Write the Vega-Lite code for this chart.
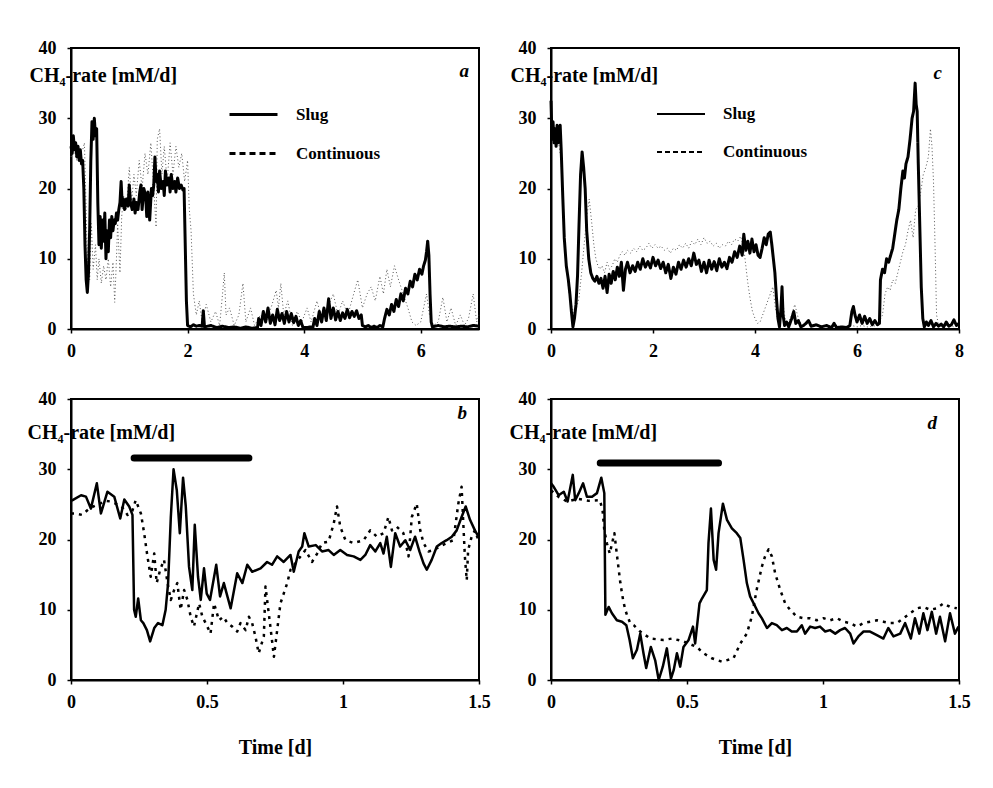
{
  "$schema": "https://vega.github.io/schema/vega-lite/v6.json",
  "background": "white",
  "padding": {"left": 26, "top": 38, "right": 20, "bottom": 20},
  "columns": 2,
  "spacing": {"row": 70, "column": 72},
  "bounds": "flush",
  "resolve": {"scale": {"strokeDash": "independent"}, "legend": {"strokeDash": "independent"}},
  "datasets": {
    "a": [
      {"t":0.00,"v":26,"s":"Slug"},{"t":0.02,"v":25,"s":"Slug"},{"t":0.04,"v":27.5,"s":"Slug"},{"t":0.06,"v":25.5,"s":"Slug"},{"t":0.08,"v":26.5,"s":"Slug"},{"t":0.10,"v":24.5,"s":"Slug"},{"t":0.12,"v":26,"s":"Slug"},{"t":0.14,"v":24,"s":"Slug"},{"t":0.16,"v":25.5,"s":"Slug"},{"t":0.18,"v":23.5,"s":"Slug"},{"t":0.20,"v":24,"s":"Slug"},{"t":0.22,"v":20,"s":"Slug"},{"t":0.24,"v":12,"s":"Slug"},{"t":0.26,"v":7,"s":"Slug"},{"t":0.28,"v":5.2,"s":"Slug"},{"t":0.30,"v":8,"s":"Slug"},{"t":0.32,"v":14,"s":"Slug"},{"t":0.34,"v":24,"s":"Slug"},{"t":0.36,"v":29.5,"s":"Slug"},{"t":0.38,"v":27,"s":"Slug"},{"t":0.40,"v":30,"s":"Slug"},{"t":0.42,"v":27.5,"s":"Slug"},{"t":0.44,"v":28.5,"s":"Slug"},{"t":0.46,"v":18,"s":"Slug"},{"t":0.48,"v":12,"s":"Slug"},{"t":0.50,"v":16,"s":"Slug"},{"t":0.52,"v":11.5,"s":"Slug"},{"t":0.54,"v":15.5,"s":"Slug"},{"t":0.56,"v":12.5,"s":"Slug"},{"t":0.58,"v":16.5,"s":"Slug"},{"t":0.60,"v":10,"s":"Slug"},{"t":0.62,"v":14,"s":"Slug"},{"t":0.64,"v":11,"s":"Slug"},{"t":0.66,"v":15.5,"s":"Slug"},{"t":0.68,"v":13,"s":"Slug"},{"t":0.70,"v":16,"s":"Slug"},{"t":0.72,"v":14,"s":"Slug"},{"t":0.74,"v":15.5,"s":"Slug"},{"t":0.76,"v":15,"s":"Slug"},{"t":0.78,"v":16.5,"s":"Slug"},{"t":0.80,"v":15.5,"s":"Slug"},{"t":0.82,"v":17,"s":"Slug"},{"t":0.84,"v":18,"s":"Slug"},{"t":0.86,"v":21,"s":"Slug"},{"t":0.88,"v":17.5,"s":"Slug"},{"t":0.90,"v":18.5,"s":"Slug"},{"t":0.92,"v":17,"s":"Slug"},{"t":0.95,"v":18.5,"s":"Slug"},{"t":0.98,"v":17.5,"s":"Slug"},{"t":1.00,"v":20.5,"s":"Slug"},{"t":1.02,"v":18,"s":"Slug"},{"t":1.05,"v":17,"s":"Slug"},{"t":1.08,"v":18.5,"s":"Slug"},{"t":1.10,"v":16.5,"s":"Slug"},{"t":1.12,"v":18,"s":"Slug"},{"t":1.15,"v":17,"s":"Slug"},{"t":1.18,"v":19.5,"s":"Slug"},{"t":1.20,"v":20.5,"s":"Slug"},{"t":1.22,"v":17,"s":"Slug"},{"t":1.25,"v":20,"s":"Slug"},{"t":1.28,"v":19,"s":"Slug"},{"t":1.30,"v":16,"s":"Slug"},{"t":1.32,"v":19.5,"s":"Slug"},{"t":1.35,"v":15.5,"s":"Slug"},{"t":1.38,"v":20,"s":"Slug"},{"t":1.40,"v":19,"s":"Slug"},{"t":1.42,"v":20.5,"s":"Slug"},{"t":1.44,"v":24.5,"s":"Slug"},{"t":1.46,"v":21,"s":"Slug"},{"t":1.48,"v":22,"s":"Slug"},{"t":1.50,"v":19.5,"s":"Slug"},{"t":1.52,"v":22.5,"s":"Slug"},{"t":1.55,"v":20,"s":"Slug"},{"t":1.58,"v":21,"s":"Slug"},{"t":1.60,"v":19,"s":"Slug"},{"t":1.62,"v":22.5,"s":"Slug"},{"t":1.65,"v":20.5,"s":"Slug"},{"t":1.68,"v":21.5,"s":"Slug"},{"t":1.70,"v":19.5,"s":"Slug"},{"t":1.72,"v":22,"s":"Slug"},{"t":1.75,"v":20,"s":"Slug"},{"t":1.78,"v":21,"s":"Slug"},{"t":1.80,"v":19.5,"s":"Slug"},{"t":1.83,"v":21.5,"s":"Slug"},{"t":1.86,"v":20,"s":"Slug"},{"t":1.89,"v":20.5,"s":"Slug"},{"t":1.92,"v":19.8,"s":"Slug"},{"t":1.94,"v":20,"s":"Slug"},{"t":1.96,"v":12,"s":"Slug"},{"t":1.98,"v":4,"s":"Slug"},{"t":2.00,"v":0.5,"s":"Slug"},{"t":2.05,"v":0.3,"s":"Slug"},{"t":2.10,"v":0.6,"s":"Slug"},{"t":2.15,"v":0.4,"s":"Slug"},{"t":2.20,"v":0.5,"s":"Slug"},{"t":2.25,"v":0.4,"s":"Slug"},{"t":2.27,"v":2.6,"s":"Slug"},{"t":2.29,"v":0.3,"s":"Slug"},{"t":2.4,"v":0.5,"s":"Slug"},{"t":2.5,"v":0.2,"s":"Slug"},{"t":2.6,"v":0.4,"s":"Slug"},{"t":2.7,"v":0.2,"s":"Slug"},{"t":2.8,"v":0.3,"s":"Slug"},{"t":2.9,"v":0.1,"s":"Slug"},{"t":3.0,"v":0.3,"s":"Slug"},{"t":3.1,"v":0.1,"s":"Slug"},{"t":3.2,"v":0.2,"s":"Slug"},{"t":3.22,"v":1.5,"s":"Slug"},{"t":3.26,"v":0.5,"s":"Slug"},{"t":3.30,"v":2.5,"s":"Slug"},{"t":3.34,"v":1,"s":"Slug"},{"t":3.38,"v":3,"s":"Slug"},{"t":3.42,"v":0.8,"s":"Slug"},{"t":3.46,"v":2,"s":"Slug"},{"t":3.50,"v":0.6,"s":"Slug"},{"t":3.54,"v":2.8,"s":"Slug"},{"t":3.58,"v":1.2,"s":"Slug"},{"t":3.62,"v":2.2,"s":"Slug"},{"t":3.66,"v":0.8,"s":"Slug"},{"t":3.70,"v":2.5,"s":"Slug"},{"t":3.74,"v":1,"s":"Slug"},{"t":3.78,"v":2.2,"s":"Slug"},{"t":3.82,"v":0.9,"s":"Slug"},{"t":3.86,"v":1.8,"s":"Slug"},{"t":3.90,"v":0.5,"s":"Slug"},{"t":3.94,"v":1.2,"s":"Slug"},{"t":3.98,"v":0.2,"s":"Slug"},{"t":4.05,"v":0.2,"s":"Slug"},{"t":4.10,"v":0.3,"s":"Slug"},{"t":4.15,"v":0.2,"s":"Slug"},{"t":4.18,"v":1.5,"s":"Slug"},{"t":4.22,"v":0.5,"s":"Slug"},{"t":4.26,"v":2.5,"s":"Slug"},{"t":4.30,"v":1,"s":"Slug"},{"t":4.34,"v":3,"s":"Slug"},{"t":4.38,"v":1.2,"s":"Slug"},{"t":4.42,"v":4.3,"s":"Slug"},{"t":4.46,"v":1.5,"s":"Slug"},{"t":4.50,"v":3,"s":"Slug"},{"t":4.54,"v":1.3,"s":"Slug"},{"t":4.58,"v":2.5,"s":"Slug"},{"t":4.62,"v":1.2,"s":"Slug"},{"t":4.66,"v":2.3,"s":"Slug"},{"t":4.70,"v":1.5,"s":"Slug"},{"t":4.74,"v":2.8,"s":"Slug"},{"t":4.78,"v":1.6,"s":"Slug"},{"t":4.82,"v":2.5,"s":"Slug"},{"t":4.86,"v":1.8,"s":"Slug"},{"t":4.90,"v":2.6,"s":"Slug"},{"t":4.94,"v":1.5,"s":"Slug"},{"t":4.98,"v":2,"s":"Slug"},{"t":5.00,"v":0.5,"s":"Slug"},{"t":5.05,"v":0.3,"s":"Slug"},{"t":5.10,"v":0.5,"s":"Slug"},{"t":5.15,"v":0.2,"s":"Slug"},{"t":5.20,"v":0.4,"s":"Slug"},{"t":5.25,"v":0.2,"s":"Slug"},{"t":5.30,"v":0.5,"s":"Slug"},{"t":5.35,"v":0.3,"s":"Slug"},{"t":5.38,"v":1.5,"s":"Slug"},{"t":5.42,"v":2.8,"s":"Slug"},{"t":5.46,"v":2,"s":"Slug"},{"t":5.50,"v":3.5,"s":"Slug"},{"t":5.54,"v":2.5,"s":"Slug"},{"t":5.58,"v":4.2,"s":"Slug"},{"t":5.62,"v":3.2,"s":"Slug"},{"t":5.66,"v":5,"s":"Slug"},{"t":5.70,"v":4,"s":"Slug"},{"t":5.74,"v":5.8,"s":"Slug"},{"t":5.78,"v":5,"s":"Slug"},{"t":5.82,"v":6.8,"s":"Slug"},{"t":5.86,"v":6,"s":"Slug"},{"t":5.90,"v":7.8,"s":"Slug"},{"t":5.94,"v":7,"s":"Slug"},{"t":5.98,"v":8.5,"s":"Slug"},{"t":6.02,"v":7.8,"s":"Slug"},{"t":6.05,"v":9,"s":"Slug"},{"t":6.08,"v":9.8,"s":"Slug"},{"t":6.10,"v":11,"s":"Slug"},{"t":6.12,"v":12.5,"s":"Slug"},{"t":6.14,"v":10.5,"s":"Slug"},{"t":6.16,"v":5,"s":"Slug"},{"t":6.18,"v":1,"s":"Slug"},{"t":6.20,"v":0.3,"s":"Slug"},{"t":6.3,"v":0.5,"s":"Slug"},{"t":6.4,"v":0.3,"s":"Slug"},{"t":6.5,"v":0.4,"s":"Slug"},{"t":6.6,"v":0.3,"s":"Slug"},{"t":6.7,"v":0.4,"s":"Slug"},{"t":6.8,"v":0.3,"s":"Slug"},{"t":6.9,"v":0.5,"s":"Slug"},{"t":7.0,"v":0.4,"s":"Slug"},
      {"t":0.00,"v":24.5,"s":"Continuous"},{"t":0.05,"v":25.5,"s":"Continuous"},{"t":0.10,"v":24,"s":"Continuous"},{"t":0.15,"v":25,"s":"Continuous"},{"t":0.20,"v":25.5,"s":"Continuous"},{"t":0.23,"v":26.5,"s":"Continuous"},{"t":0.26,"v":17,"s":"Continuous"},{"t":0.28,"v":9,"s":"Continuous"},{"t":0.30,"v":14,"s":"Continuous"},{"t":0.32,"v":7,"s":"Continuous"},{"t":0.35,"v":15,"s":"Continuous"},{"t":0.38,"v":8.5,"s":"Continuous"},{"t":0.42,"v":12,"s":"Continuous"},{"t":0.45,"v":7,"s":"Continuous"},{"t":0.48,"v":10,"s":"Continuous"},{"t":0.52,"v":6.5,"s":"Continuous"},{"t":0.56,"v":9,"s":"Continuous"},{"t":0.60,"v":7,"s":"Continuous"},{"t":0.64,"v":10,"s":"Continuous"},{"t":0.68,"v":6,"s":"Continuous"},{"t":0.72,"v":9.5,"s":"Continuous"},{"t":0.75,"v":3.8,"s":"Continuous"},{"t":0.78,"v":10,"s":"Continuous"},{"t":0.80,"v":15,"s":"Continuous"},{"t":0.84,"v":8,"s":"Continuous"},{"t":0.87,"v":16,"s":"Continuous"},{"t":0.90,"v":19,"s":"Continuous"},{"t":0.95,"v":17,"s":"Continuous"},{"t":1.00,"v":23,"s":"Continuous"},{"t":1.04,"v":18,"s":"Continuous"},{"t":1.08,"v":22,"s":"Continuous"},{"t":1.12,"v":19,"s":"Continuous"},{"t":1.17,"v":24,"s":"Continuous"},{"t":1.22,"v":20,"s":"Continuous"},{"t":1.27,"v":25,"s":"Continuous"},{"t":1.32,"v":22,"s":"Continuous"},{"t":1.37,"v":26.5,"s":"Continuous"},{"t":1.42,"v":20,"s":"Continuous"},{"t":1.46,"v":14.5,"s":"Continuous"},{"t":1.48,"v":27,"s":"Continuous"},{"t":1.52,"v":28.5,"s":"Continuous"},{"t":1.56,"v":22,"s":"Continuous"},{"t":1.60,"v":26,"s":"Continuous"},{"t":1.65,"v":21,"s":"Continuous"},{"t":1.70,"v":26.5,"s":"Continuous"},{"t":1.75,"v":22,"s":"Continuous"},{"t":1.80,"v":26,"s":"Continuous"},{"t":1.85,"v":23,"s":"Continuous"},{"t":1.90,"v":25,"s":"Continuous"},{"t":1.95,"v":21,"s":"Continuous"},{"t":2.00,"v":24,"s":"Continuous"},{"t":2.03,"v":17,"s":"Continuous"},{"t":2.06,"v":14,"s":"Continuous"},{"t":2.10,"v":5,"s":"Continuous"},{"t":2.15,"v":2,"s":"Continuous"},{"t":2.20,"v":4,"s":"Continuous"},{"t":2.25,"v":1,"s":"Continuous"},{"t":2.32,"v":3.5,"s":"Continuous"},{"t":2.40,"v":1,"s":"Continuous"},{"t":2.48,"v":2.5,"s":"Continuous"},{"t":2.55,"v":0.5,"s":"Continuous"},{"t":2.60,"v":5,"s":"Continuous"},{"t":2.63,"v":8,"s":"Continuous"},{"t":2.66,"v":2,"s":"Continuous"},{"t":2.72,"v":3,"s":"Continuous"},{"t":2.80,"v":0.5,"s":"Continuous"},{"t":2.88,"v":2,"s":"Continuous"},{"t":2.95,"v":6.5,"s":"Continuous"},{"t":3.00,"v":1,"s":"Continuous"},{"t":3.08,"v":3,"s":"Continuous"},{"t":3.15,"v":0.5,"s":"Continuous"},{"t":3.25,"v":2,"s":"Continuous"},{"t":3.35,"v":1,"s":"Continuous"},{"t":3.45,"v":3.5,"s":"Continuous"},{"t":3.52,"v":5.5,"s":"Continuous"},{"t":3.56,"v":3,"s":"Continuous"},{"t":3.60,"v":6.5,"s":"Continuous"},{"t":3.65,"v":2,"s":"Continuous"},{"t":3.72,"v":4,"s":"Continuous"},{"t":3.80,"v":0.5,"s":"Continuous"},{"t":3.88,"v":2.5,"s":"Continuous"},{"t":3.96,"v":1,"s":"Continuous"},{"t":4.05,"v":3,"s":"Continuous"},{"t":4.12,"v":1,"s":"Continuous"},{"t":4.22,"v":4,"s":"Continuous"},{"t":4.30,"v":1.5,"s":"Continuous"},{"t":4.40,"v":3,"s":"Continuous"},{"t":4.50,"v":5,"s":"Continuous"},{"t":4.58,"v":2,"s":"Continuous"},{"t":4.66,"v":4,"s":"Continuous"},{"t":4.75,"v":2,"s":"Continuous"},{"t":4.85,"v":5,"s":"Continuous"},{"t":4.92,"v":7,"s":"Continuous"},{"t":5.00,"v":3,"s":"Continuous"},{"t":5.08,"v":5,"s":"Continuous"},{"t":5.15,"v":6,"s":"Continuous"},{"t":5.22,"v":4,"s":"Continuous"},{"t":5.30,"v":7.5,"s":"Continuous"},{"t":5.36,"v":5,"s":"Continuous"},{"t":5.42,"v":8.5,"s":"Continuous"},{"t":5.48,"v":6,"s":"Continuous"},{"t":5.55,"v":9,"s":"Continuous"},{"t":5.62,"v":7,"s":"Continuous"},{"t":5.70,"v":5,"s":"Continuous"},{"t":5.78,"v":3,"s":"Continuous"},{"t":5.85,"v":1,"s":"Continuous"},{"t":5.92,"v":0.5,"s":"Continuous"},{"t":6.00,"v":1,"s":"Continuous"},{"t":6.05,"v":3,"s":"Continuous"},{"t":6.10,"v":5,"s":"Continuous"},{"t":6.15,"v":2,"s":"Continuous"},{"t":6.22,"v":0.5,"s":"Continuous"},{"t":6.30,"v":1,"s":"Continuous"},{"t":6.38,"v":4.5,"s":"Continuous"},{"t":6.45,"v":1,"s":"Continuous"},{"t":6.52,"v":3,"s":"Continuous"},{"t":6.60,"v":0.5,"s":"Continuous"},{"t":6.68,"v":2,"s":"Continuous"},{"t":6.75,"v":0.5,"s":"Continuous"},{"t":6.82,"v":1.5,"s":"Continuous"},{"t":6.90,"v":5,"s":"Continuous"},{"t":6.96,"v":1,"s":"Continuous"},{"t":7.00,"v":2,"s":"Continuous"}
    ],
    "c": [
      {"t":0.00,"v":32.5,"s":"Slug"},{"t":0.02,"v":27,"s":"Slug"},{"t":0.04,"v":29.5,"s":"Slug"},{"t":0.06,"v":26.5,"s":"Slug"},{"t":0.08,"v":28.5,"s":"Slug"},{"t":0.10,"v":26,"s":"Slug"},{"t":0.12,"v":29,"s":"Slug"},{"t":0.14,"v":26.5,"s":"Slug"},{"t":0.16,"v":28,"s":"Slug"},{"t":0.18,"v":29,"s":"Slug"},{"t":0.20,"v":25.5,"s":"Slug"},{"t":0.23,"v":19,"s":"Slug"},{"t":0.26,"v":13,"s":"Slug"},{"t":0.30,"v":9,"s":"Slug"},{"t":0.34,"v":7,"s":"Slug"},{"t":0.37,"v":5,"s":"Slug"},{"t":0.40,"v":2.5,"s":"Slug"},{"t":0.43,"v":0.3,"s":"Slug"},{"t":0.46,"v":1.5,"s":"Slug"},{"t":0.49,"v":3.5,"s":"Slug"},{"t":0.52,"v":7.5,"s":"Slug"},{"t":0.55,"v":15,"s":"Slug"},{"t":0.58,"v":22,"s":"Slug"},{"t":0.61,"v":25.2,"s":"Slug"},{"t":0.64,"v":23,"s":"Slug"},{"t":0.67,"v":20,"s":"Slug"},{"t":0.70,"v":14,"s":"Slug"},{"t":0.74,"v":10,"s":"Slug"},{"t":0.78,"v":8,"s":"Slug"},{"t":0.82,"v":7.2,"s":"Slug"},{"t":0.86,"v":6.8,"s":"Slug"},{"t":0.90,"v":7.5,"s":"Slug"},{"t":0.94,"v":6.5,"s":"Slug"},{"t":0.98,"v":7.2,"s":"Slug"},{"t":1.02,"v":5.8,"s":"Slug"},{"t":1.06,"v":7.5,"s":"Slug"},{"t":1.10,"v":5.2,"s":"Slug"},{"t":1.14,"v":7.8,"s":"Slug"},{"t":1.18,"v":6.5,"s":"Slug"},{"t":1.22,"v":8.2,"s":"Slug"},{"t":1.26,"v":7,"s":"Slug"},{"t":1.30,"v":8.8,"s":"Slug"},{"t":1.34,"v":7.5,"s":"Slug"},{"t":1.38,"v":9.5,"s":"Slug"},{"t":1.42,"v":5.5,"s":"Slug"},{"t":1.46,"v":8.5,"s":"Slug"},{"t":1.50,"v":9.5,"s":"Slug"},{"t":1.55,"v":8,"s":"Slug"},{"t":1.60,"v":9,"s":"Slug"},{"t":1.65,"v":8.2,"s":"Slug"},{"t":1.70,"v":9.5,"s":"Slug"},{"t":1.75,"v":8.5,"s":"Slug"},{"t":1.80,"v":10,"s":"Slug"},{"t":1.85,"v":8.8,"s":"Slug"},{"t":1.90,"v":9.6,"s":"Slug"},{"t":1.95,"v":8.7,"s":"Slug"},{"t":2.00,"v":10.2,"s":"Slug"},{"t":2.05,"v":9,"s":"Slug"},{"t":2.10,"v":9.8,"s":"Slug"},{"t":2.15,"v":8.6,"s":"Slug"},{"t":2.20,"v":9.5,"s":"Slug"},{"t":2.25,"v":8,"s":"Slug"},{"t":2.30,"v":9.2,"s":"Slug"},{"t":2.35,"v":7.2,"s":"Slug"},{"t":2.40,"v":8.8,"s":"Slug"},{"t":2.45,"v":7.8,"s":"Slug"},{"t":2.50,"v":9.5,"s":"Slug"},{"t":2.55,"v":8.5,"s":"Slug"},{"t":2.60,"v":9.8,"s":"Slug"},{"t":2.65,"v":8.8,"s":"Slug"},{"t":2.70,"v":10,"s":"Slug"},{"t":2.75,"v":9,"s":"Slug"},{"t":2.80,"v":10.8,"s":"Slug"},{"t":2.85,"v":9.2,"s":"Slug"},{"t":2.90,"v":9.8,"s":"Slug"},{"t":2.95,"v":8.2,"s":"Slug"},{"t":3.00,"v":9.5,"s":"Slug"},{"t":3.05,"v":8,"s":"Slug"},{"t":3.10,"v":9.8,"s":"Slug"},{"t":3.15,"v":8.5,"s":"Slug"},{"t":3.20,"v":9.6,"s":"Slug"},{"t":3.25,"v":8.3,"s":"Slug"},{"t":3.30,"v":10,"s":"Slug"},{"t":3.35,"v":8.8,"s":"Slug"},{"t":3.40,"v":9.5,"s":"Slug"},{"t":3.45,"v":8.6,"s":"Slug"},{"t":3.50,"v":10.2,"s":"Slug"},{"t":3.55,"v":9.5,"s":"Slug"},{"t":3.60,"v":11,"s":"Slug"},{"t":3.65,"v":10.2,"s":"Slug"},{"t":3.70,"v":11.8,"s":"Slug"},{"t":3.75,"v":10.5,"s":"Slug"},{"t":3.78,"v":13.5,"s":"Slug"},{"t":3.82,"v":11.2,"s":"Slug"},{"t":3.86,"v":12.5,"s":"Slug"},{"t":3.90,"v":10.8,"s":"Slug"},{"t":3.94,"v":12.8,"s":"Slug"},{"t":3.98,"v":11,"s":"Slug"},{"t":4.02,"v":12,"s":"Slug"},{"t":4.06,"v":10.5,"s":"Slug"},{"t":4.10,"v":10.2,"s":"Slug"},{"t":4.14,"v":11.5,"s":"Slug"},{"t":4.18,"v":13,"s":"Slug"},{"t":4.22,"v":12,"s":"Slug"},{"t":4.26,"v":13.5,"s":"Slug"},{"t":4.30,"v":13.8,"s":"Slug"},{"t":4.33,"v":12,"s":"Slug"},{"t":4.36,"v":10,"s":"Slug"},{"t":4.39,"v":8,"s":"Slug"},{"t":4.42,"v":4.5,"s":"Slug"},{"t":4.45,"v":1.5,"s":"Slug"},{"t":4.48,"v":0.3,"s":"Slug"},{"t":4.51,"v":3,"s":"Slug"},{"t":4.53,"v":6,"s":"Slug"},{"t":4.55,"v":2,"s":"Slug"},{"t":4.58,"v":0.5,"s":"Slug"},{"t":4.62,"v":1,"s":"Slug"},{"t":4.66,"v":0.3,"s":"Slug"},{"t":4.72,"v":1.5,"s":"Slug"},{"t":4.76,"v":2.5,"s":"Slug"},{"t":4.80,"v":0.8,"s":"Slug"},{"t":4.85,"v":1.2,"s":"Slug"},{"t":4.90,"v":0.3,"s":"Slug"},{"t":4.95,"v":0.5,"s":"Slug"},{"t":5.00,"v":0.8,"s":"Slug"},{"t":5.05,"v":1.2,"s":"Slug"},{"t":5.10,"v":0.4,"s":"Slug"},{"t":5.20,"v":0.6,"s":"Slug"},{"t":5.30,"v":0.3,"s":"Slug"},{"t":5.40,"v":0.5,"s":"Slug"},{"t":5.50,"v":0.2,"s":"Slug"},{"t":5.55,"v":0.8,"s":"Slug"},{"t":5.60,"v":0.2,"s":"Slug"},{"t":5.70,"v":0.3,"s":"Slug"},{"t":5.80,"v":0.2,"s":"Slug"},{"t":5.86,"v":0.5,"s":"Slug"},{"t":5.90,"v":2.5,"s":"Slug"},{"t":5.93,"v":3.2,"s":"Slug"},{"t":5.96,"v":2,"s":"Slug"},{"t":6.00,"v":1,"s":"Slug"},{"t":6.05,"v":2,"s":"Slug"},{"t":6.10,"v":0.8,"s":"Slug"},{"t":6.15,"v":1.8,"s":"Slug"},{"t":6.20,"v":0.8,"s":"Slug"},{"t":6.25,"v":1.5,"s":"Slug"},{"t":6.30,"v":0.6,"s":"Slug"},{"t":6.35,"v":1.2,"s":"Slug"},{"t":6.40,"v":0.6,"s":"Slug"},{"t":6.44,"v":0.8,"s":"Slug"},{"t":6.46,"v":7,"s":"Slug"},{"t":6.50,"v":8.5,"s":"Slug"},{"t":6.54,"v":8,"s":"Slug"},{"t":6.58,"v":10,"s":"Slug"},{"t":6.62,"v":9.5,"s":"Slug"},{"t":6.66,"v":10.5,"s":"Slug"},{"t":6.70,"v":11.5,"s":"Slug"},{"t":6.74,"v":13.5,"s":"Slug"},{"t":6.78,"v":15.5,"s":"Slug"},{"t":6.82,"v":17,"s":"Slug"},{"t":6.86,"v":20,"s":"Slug"},{"t":6.90,"v":22.5,"s":"Slug"},{"t":6.93,"v":21.5,"s":"Slug"},{"t":6.96,"v":23.5,"s":"Slug"},{"t":7.00,"v":24.5,"s":"Slug"},{"t":7.04,"v":27,"s":"Slug"},{"t":7.08,"v":30,"s":"Slug"},{"t":7.11,"v":31,"s":"Slug"},{"t":7.14,"v":35,"s":"Slug"},{"t":7.16,"v":32,"s":"Slug"},{"t":7.18,"v":31,"s":"Slug"},{"t":7.20,"v":24,"s":"Slug"},{"t":7.23,"v":15,"s":"Slug"},{"t":7.26,"v":6,"s":"Slug"},{"t":7.29,"v":1.5,"s":"Slug"},{"t":7.32,"v":0.3,"s":"Slug"},{"t":7.36,"v":1,"s":"Slug"},{"t":7.40,"v":0.5,"s":"Slug"},{"t":7.45,"v":1.2,"s":"Slug"},{"t":7.50,"v":0.3,"s":"Slug"},{"t":7.55,"v":0.8,"s":"Slug"},{"t":7.60,"v":0.4,"s":"Slug"},{"t":7.65,"v":0.7,"s":"Slug"},{"t":7.70,"v":0.3,"s":"Slug"},{"t":7.75,"v":1,"s":"Slug"},{"t":7.80,"v":0.4,"s":"Slug"},{"t":7.85,"v":0.6,"s":"Slug"},{"t":7.90,"v":1.3,"s":"Slug"},{"t":7.95,"v":0.5,"s":"Slug"},{"t":8.00,"v":0.8,"s":"Slug"},
      {"t":0.00,"v":29,"s":"Continuous"},{"t":0.05,"v":27,"s":"Continuous"},{"t":0.10,"v":28,"s":"Continuous"},{"t":0.15,"v":26.5,"s":"Continuous"},{"t":0.20,"v":24,"s":"Continuous"},{"t":0.24,"v":16,"s":"Continuous"},{"t":0.28,"v":11,"s":"Continuous"},{"t":0.32,"v":7.5,"s":"Continuous"},{"t":0.36,"v":5,"s":"Continuous"},{"t":0.40,"v":3.5,"s":"Continuous"},{"t":0.45,"v":2,"s":"Continuous"},{"t":0.50,"v":3,"s":"Continuous"},{"t":0.55,"v":4.5,"s":"Continuous"},{"t":0.60,"v":8,"s":"Continuous"},{"t":0.65,"v":12,"s":"Continuous"},{"t":0.70,"v":16,"s":"Continuous"},{"t":0.75,"v":18.5,"s":"Continuous"},{"t":0.80,"v":15,"s":"Continuous"},{"t":0.84,"v":12,"s":"Continuous"},{"t":0.88,"v":10,"s":"Continuous"},{"t":0.92,"v":9,"s":"Continuous"},{"t":0.96,"v":8.5,"s":"Continuous"},{"t":1.00,"v":9,"s":"Continuous"},{"t":1.05,"v":8,"s":"Continuous"},{"t":1.10,"v":9.5,"s":"Continuous"},{"t":1.15,"v":8.5,"s":"Continuous"},{"t":1.20,"v":9,"s":"Continuous"},{"t":1.25,"v":10,"s":"Continuous"},{"t":1.30,"v":9.5,"s":"Continuous"},{"t":1.35,"v":10.5,"s":"Continuous"},{"t":1.40,"v":11,"s":"Continuous"},{"t":1.45,"v":10.5,"s":"Continuous"},{"t":1.50,"v":11.2,"s":"Continuous"},{"t":1.56,"v":10.8,"s":"Continuous"},{"t":1.62,"v":11.5,"s":"Continuous"},{"t":1.68,"v":11,"s":"Continuous"},{"t":1.74,"v":11.8,"s":"Continuous"},{"t":1.80,"v":11.2,"s":"Continuous"},{"t":1.86,"v":11.5,"s":"Continuous"},{"t":1.92,"v":12.2,"s":"Continuous"},{"t":1.98,"v":11.5,"s":"Continuous"},{"t":2.04,"v":12,"s":"Continuous"},{"t":2.10,"v":11.5,"s":"Continuous"},{"t":2.16,"v":11.8,"s":"Continuous"},{"t":2.22,"v":11.2,"s":"Continuous"},{"t":2.28,"v":11.5,"s":"Continuous"},{"t":2.34,"v":10.8,"s":"Continuous"},{"t":2.40,"v":11.5,"s":"Continuous"},{"t":2.46,"v":11.2,"s":"Continuous"},{"t":2.52,"v":12,"s":"Continuous"},{"t":2.58,"v":11.5,"s":"Continuous"},{"t":2.64,"v":12.2,"s":"Continuous"},{"t":2.70,"v":11.5,"s":"Continuous"},{"t":2.76,"v":12.5,"s":"Continuous"},{"t":2.82,"v":12,"s":"Continuous"},{"t":2.88,"v":12.8,"s":"Continuous"},{"t":2.94,"v":12,"s":"Continuous"},{"t":3.00,"v":13,"s":"Continuous"},{"t":3.06,"v":12.2,"s":"Continuous"},{"t":3.12,"v":12.5,"s":"Continuous"},{"t":3.18,"v":11.8,"s":"Continuous"},{"t":3.24,"v":12.2,"s":"Continuous"},{"t":3.30,"v":11.5,"s":"Continuous"},{"t":3.36,"v":12,"s":"Continuous"},{"t":3.42,"v":11.8,"s":"Continuous"},{"t":3.48,"v":12.5,"s":"Continuous"},{"t":3.54,"v":12,"s":"Continuous"},{"t":3.60,"v":12.8,"s":"Continuous"},{"t":3.66,"v":12.5,"s":"Continuous"},{"t":3.72,"v":13.2,"s":"Continuous"},{"t":3.78,"v":11.5,"s":"Continuous"},{"t":3.82,"v":9,"s":"Continuous"},{"t":3.86,"v":6.5,"s":"Continuous"},{"t":3.90,"v":4.5,"s":"Continuous"},{"t":3.95,"v":2.5,"s":"Continuous"},{"t":4.00,"v":1.5,"s":"Continuous"},{"t":4.05,"v":0.8,"s":"Continuous"},{"t":4.10,"v":1,"s":"Continuous"},{"t":4.15,"v":2,"s":"Continuous"},{"t":4.20,"v":3,"s":"Continuous"},{"t":4.25,"v":4,"s":"Continuous"},{"t":4.30,"v":5,"s":"Continuous"},{"t":4.35,"v":6,"s":"Continuous"},{"t":4.40,"v":3,"s":"Continuous"},{"t":4.44,"v":1.5,"s":"Continuous"},{"t":4.50,"v":2.5,"s":"Continuous"},{"t":4.55,"v":3.5,"s":"Continuous"},{"t":4.60,"v":1,"s":"Continuous"},{"t":4.65,"v":0.8,"s":"Continuous"},{"t":4.72,"v":2,"s":"Continuous"},{"t":4.78,"v":3.5,"s":"Continuous"},{"t":4.85,"v":1.5,"s":"Continuous"},{"t":4.92,"v":0.5,"s":"Continuous"},{"t":5.00,"v":1,"s":"Continuous"},{"t":5.10,"v":0.4,"s":"Continuous"},{"t":5.20,"v":0.6,"s":"Continuous"},{"t":5.30,"v":0.3,"s":"Continuous"},{"t":5.40,"v":0.5,"s":"Continuous"},{"t":5.50,"v":0.3,"s":"Continuous"},{"t":5.60,"v":0.4,"s":"Continuous"},{"t":5.70,"v":0.2,"s":"Continuous"},{"t":5.80,"v":0.4,"s":"Continuous"},{"t":5.90,"v":0.5,"s":"Continuous"},{"t":6.00,"v":0.3,"s":"Continuous"},{"t":6.10,"v":0.5,"s":"Continuous"},{"t":6.20,"v":0.3,"s":"Continuous"},{"t":6.30,"v":0.4,"s":"Continuous"},{"t":6.40,"v":0.5,"s":"Continuous"},{"t":6.50,"v":2,"s":"Continuous"},{"t":6.55,"v":5,"s":"Continuous"},{"t":6.60,"v":6,"s":"Continuous"},{"t":6.65,"v":5.5,"s":"Continuous"},{"t":6.70,"v":7,"s":"Continuous"},{"t":6.75,"v":6.5,"s":"Continuous"},{"t":6.80,"v":8,"s":"Continuous"},{"t":6.85,"v":9.5,"s":"Continuous"},{"t":6.90,"v":11,"s":"Continuous"},{"t":6.95,"v":12,"s":"Continuous"},{"t":7.00,"v":14,"s":"Continuous"},{"t":7.05,"v":15.5,"s":"Continuous"},{"t":7.10,"v":13,"s":"Continuous"},{"t":7.15,"v":17,"s":"Continuous"},{"t":7.20,"v":17.5,"s":"Continuous"},{"t":7.25,"v":19.5,"s":"Continuous"},{"t":7.30,"v":22,"s":"Continuous"},{"t":7.35,"v":23,"s":"Continuous"},{"t":7.40,"v":24.5,"s":"Continuous"},{"t":7.44,"v":28.5,"s":"Continuous"},{"t":7.47,"v":26,"s":"Continuous"},{"t":7.50,"v":21,"s":"Continuous"},{"t":7.53,"v":12,"s":"Continuous"},{"t":7.56,"v":2,"s":"Continuous"},{"t":7.60,"v":0.5,"s":"Continuous"},{"t":7.70,"v":0.4,"s":"Continuous"},{"t":7.80,"v":0.6,"s":"Continuous"},{"t":7.90,"v":0.3,"s":"Continuous"},{"t":8.00,"v":0.5,"s":"Continuous"}
    ],
    "b": [
      {"t":0,"v":25.5,"s":"Slug"},{"t":0.006,"v":25.6,"s":"Slug"},{"t":0.037,"v":26.3,"s":"Slug"},{"t":0.055,"v":26.1,"s":"Slug"},{"t":0.073,"v":24.4,"s":"Slug"},{"t":0.095,"v":28.0,"s":"Slug"},{"t":0.11,"v":23.7,"s":"Slug"},{"t":0.134,"v":26.8,"s":"Slug"},{"t":0.159,"v":26.1,"s":"Slug"},{"t":0.181,"v":23.0,"s":"Slug"},{"t":0.196,"v":25.7,"s":"Slug"},{"t":0.214,"v":24.7,"s":"Slug"},{"t":0.226,"v":23.5,"s":"Slug"},{"t":0.232,"v":10.0,"s":"Slug"},{"t":0.238,"v":9.0,"s":"Slug"},{"t":0.247,"v":11.6,"s":"Slug"},{"t":0.257,"v":8.5,"s":"Slug"},{"t":0.266,"v":8.1,"s":"Slug"},{"t":0.279,"v":7.1,"s":"Slug"},{"t":0.291,"v":5.5,"s":"Slug"},{"t":0.306,"v":7.4,"s":"Slug"},{"t":0.32,"v":8.1,"s":"Slug"},{"t":0.336,"v":7.8,"s":"Slug"},{"t":0.348,"v":10.0,"s":"Slug"},{"t":0.357,"v":13.8,"s":"Slug"},{"t":0.367,"v":23.2,"s":"Slug"},{"t":0.377,"v":30,"s":"Slug"},{"t":0.389,"v":27,"s":"Slug"},{"t":0.40,"v":20.9,"s":"Slug"},{"t":0.412,"v":28.8,"s":"Slug"},{"t":0.422,"v":24.7,"s":"Slug"},{"t":0.434,"v":16.1,"s":"Slug"},{"t":0.446,"v":12.8,"s":"Slug"},{"t":0.455,"v":22.1,"s":"Slug"},{"t":0.467,"v":14.7,"s":"Slug"},{"t":0.477,"v":11.4,"s":"Slug"},{"t":0.489,"v":15.9,"s":"Slug"},{"t":0.499,"v":12.3,"s":"Slug"},{"t":0.511,"v":11.4,"s":"Slug"},{"t":0.534,"v":16.4,"s":"Slug"},{"t":0.548,"v":11.9,"s":"Slug"},{"t":0.562,"v":13.8,"s":"Slug"},{"t":0.575,"v":11.9,"s":"Slug"},{"t":0.587,"v":10.2,"s":"Slug"},{"t":0.611,"v":15.2,"s":"Slug"},{"t":0.63,"v":13.8,"s":"Slug"},{"t":0.648,"v":16.4,"s":"Slug"},{"t":0.666,"v":15.4,"s":"Slug"},{"t":0.697,"v":15.9,"s":"Slug"},{"t":0.721,"v":16.8,"s":"Slug"},{"t":0.739,"v":16.4,"s":"Slug"},{"t":0.758,"v":17.6,"s":"Slug"},{"t":0.782,"v":16.8,"s":"Slug"},{"t":0.807,"v":17.8,"s":"Slug"},{"t":0.819,"v":15.4,"s":"Slug"},{"t":0.837,"v":18.3,"s":"Slug"},{"t":0.85,"v":19.0,"s":"Slug"},{"t":0.858,"v":20.9,"s":"Slug"},{"t":0.874,"v":19.0,"s":"Slug"},{"t":0.9,"v":19.2,"s":"Slug"},{"t":0.923,"v":18.3,"s":"Slug"},{"t":0.947,"v":18.5,"s":"Slug"},{"t":0.966,"v":17.8,"s":"Slug"},{"t":0.99,"v":18.5,"s":"Slug"},{"t":1.015,"v":17.8,"s":"Slug"},{"t":1.039,"v":17.6,"s":"Slug"},{"t":1.064,"v":17.1,"s":"Slug"},{"t":1.082,"v":17.8,"s":"Slug"},{"t":1.1,"v":19.2,"s":"Slug"},{"t":1.119,"v":18.3,"s":"Slug"},{"t":1.137,"v":19.5,"s":"Slug"},{"t":1.149,"v":18.0,"s":"Slug"},{"t":1.161,"v":20.4,"s":"Slug"},{"t":1.176,"v":16.1,"s":"Slug"},{"t":1.192,"v":20.9,"s":"Slug"},{"t":1.21,"v":19.0,"s":"Slug"},{"t":1.229,"v":19.9,"s":"Slug"},{"t":1.247,"v":18.5,"s":"Slug"},{"t":1.265,"v":20.4,"s":"Slug"},{"t":1.281,"v":18.3,"s":"Slug"},{"t":1.296,"v":16.6,"s":"Slug"},{"t":1.308,"v":15.7,"s":"Slug"},{"t":1.326,"v":17.1,"s":"Slug"},{"t":1.345,"v":19.0,"s":"Slug"},{"t":1.363,"v":19.5,"s":"Slug"},{"t":1.381,"v":19.9,"s":"Slug"},{"t":1.4,"v":20.4,"s":"Slug"},{"t":1.418,"v":21.3,"s":"Slug"},{"t":1.436,"v":23.2,"s":"Slug"},{"t":1.451,"v":24.7,"s":"Slug"},{"t":1.467,"v":22.8,"s":"Slug"},{"t":1.485,"v":21.3,"s":"Slug"},{"t":1.498,"v":20.4,"s":"Slug"},
      {"t":0,"v":23.7,"s":"Continuous"},{"t":0.018,"v":23.7,"s":"Continuous"},{"t":0.04,"v":23.5,"s":"Continuous"},{"t":0.07,"v":24.5,"s":"Continuous"},{"t":0.1,"v":25,"s":"Continuous"},{"t":0.13,"v":25.5,"s":"Continuous"},{"t":0.147,"v":25.4,"s":"Continuous"},{"t":0.17,"v":25,"s":"Continuous"},{"t":0.19,"v":24.5,"s":"Continuous"},{"t":0.208,"v":23.5,"s":"Continuous"},{"t":0.225,"v":24,"s":"Continuous"},{"t":0.238,"v":25.6,"s":"Continuous"},{"t":0.257,"v":23.7,"s":"Continuous"},{"t":0.269,"v":20.9,"s":"Continuous"},{"t":0.281,"v":17.6,"s":"Continuous"},{"t":0.293,"v":14.7,"s":"Continuous"},{"t":0.306,"v":18.0,"s":"Continuous"},{"t":0.315,"v":13.8,"s":"Continuous"},{"t":0.328,"v":15.7,"s":"Continuous"},{"t":0.342,"v":17.1,"s":"Continuous"},{"t":0.355,"v":13.8,"s":"Continuous"},{"t":0.367,"v":11.4,"s":"Continuous"},{"t":0.379,"v":12.8,"s":"Continuous"},{"t":0.391,"v":13.8,"s":"Continuous"},{"t":0.403,"v":10.0,"s":"Continuous"},{"t":0.416,"v":12.8,"s":"Continuous"},{"t":0.428,"v":11.4,"s":"Continuous"},{"t":0.44,"v":9.0,"s":"Continuous"},{"t":0.452,"v":7.6,"s":"Continuous"},{"t":0.471,"v":10.9,"s":"Continuous"},{"t":0.483,"v":9.0,"s":"Continuous"},{"t":0.495,"v":8.1,"s":"Continuous"},{"t":0.513,"v":6.6,"s":"Continuous"},{"t":0.526,"v":10.9,"s":"Continuous"},{"t":0.544,"v":8.5,"s":"Continuous"},{"t":0.56,"v":9.0,"s":"Continuous"},{"t":0.575,"v":8.1,"s":"Continuous"},{"t":0.593,"v":7.6,"s":"Continuous"},{"t":0.611,"v":6.9,"s":"Continuous"},{"t":0.623,"v":8.1,"s":"Continuous"},{"t":0.642,"v":7.1,"s":"Continuous"},{"t":0.654,"v":9.0,"s":"Continuous"},{"t":0.666,"v":8.1,"s":"Continuous"},{"t":0.678,"v":6.2,"s":"Continuous"},{"t":0.69,"v":3.8,"s":"Continuous"},{"t":0.709,"v":6.2,"s":"Continuous"},{"t":0.715,"v":13.3,"s":"Continuous"},{"t":0.721,"v":11.4,"s":"Continuous"},{"t":0.733,"v":7.6,"s":"Continuous"},{"t":0.746,"v":3.3,"s":"Continuous"},{"t":0.758,"v":7.1,"s":"Continuous"},{"t":0.77,"v":10.9,"s":"Continuous"},{"t":0.782,"v":12.3,"s":"Continuous"},{"t":0.795,"v":13.8,"s":"Continuous"},{"t":0.807,"v":15.7,"s":"Continuous"},{"t":0.825,"v":16.6,"s":"Continuous"},{"t":0.844,"v":17.6,"s":"Continuous"},{"t":0.862,"v":18.5,"s":"Continuous"},{"t":0.886,"v":16.8,"s":"Continuous"},{"t":0.905,"v":18.0,"s":"Continuous"},{"t":0.923,"v":19.5,"s":"Continuous"},{"t":0.947,"v":19.7,"s":"Continuous"},{"t":0.966,"v":22.3,"s":"Continuous"},{"t":0.978,"v":24.7,"s":"Continuous"},{"t":0.99,"v":21.8,"s":"Continuous"},{"t":1.009,"v":19.9,"s":"Continuous"},{"t":1.039,"v":19.5,"s":"Continuous"},{"t":1.076,"v":19.9,"s":"Continuous"},{"t":1.1,"v":21.3,"s":"Continuous"},{"t":1.125,"v":20.4,"s":"Continuous"},{"t":1.149,"v":20.9,"s":"Continuous"},{"t":1.167,"v":23.2,"s":"Continuous"},{"t":1.18,"v":21.3,"s":"Continuous"},{"t":1.198,"v":21.8,"s":"Continuous"},{"t":1.222,"v":20.9,"s":"Continuous"},{"t":1.241,"v":17.6,"s":"Continuous"},{"t":1.253,"v":23.2,"s":"Continuous"},{"t":1.271,"v":25.1,"s":"Continuous"},{"t":1.284,"v":21.3,"s":"Continuous"},{"t":1.296,"v":19.5,"s":"Continuous"},{"t":1.314,"v":18.3,"s":"Continuous"},{"t":1.333,"v":18.5,"s":"Continuous"},{"t":1.357,"v":19.0,"s":"Continuous"},{"t":1.381,"v":19.5,"s":"Continuous"},{"t":1.406,"v":19.9,"s":"Continuous"},{"t":1.424,"v":25.1,"s":"Continuous"},{"t":1.436,"v":27.5,"s":"Continuous"},{"t":1.448,"v":17.6,"s":"Continuous"},{"t":1.455,"v":14.2,"s":"Continuous"},{"t":1.46,"v":18.5,"s":"Continuous"},{"t":1.473,"v":20.4,"s":"Continuous"},{"t":1.485,"v":21.3,"s":"Continuous"},{"t":1.498,"v":19.9,"s":"Continuous"}
    ],
    "d": [
      {"t":0,"v":28.0,"s":"Slug"},{"t":0.01,"v":27.5,"s":"Slug"},{"t":0.028,"v":26.3,"s":"Slug"},{"t":0.047,"v":26.8,"s":"Slug"},{"t":0.061,"v":25.4,"s":"Slug"},{"t":0.08,"v":29.2,"s":"Slug"},{"t":0.089,"v":25.6,"s":"Slug"},{"t":0.102,"v":26.6,"s":"Slug"},{"t":0.118,"v":28.0,"s":"Slug"},{"t":0.132,"v":26.1,"s":"Slug"},{"t":0.151,"v":26.1,"s":"Slug"},{"t":0.169,"v":26.6,"s":"Slug"},{"t":0.185,"v":28.8,"s":"Slug"},{"t":0.196,"v":26.6,"s":"Slug"},{"t":0.2,"v":9.3,"s":"Slug"},{"t":0.212,"v":10.4,"s":"Slug"},{"t":0.224,"v":9.5,"s":"Slug"},{"t":0.242,"v":8.5,"s":"Slug"},{"t":0.261,"v":8.3,"s":"Slug"},{"t":0.277,"v":7.8,"s":"Slug"},{"t":0.289,"v":5.7,"s":"Slug"},{"t":0.301,"v":3.1,"s":"Slug"},{"t":0.316,"v":4.3,"s":"Slug"},{"t":0.328,"v":6.6,"s":"Slug"},{"t":0.34,"v":3.8,"s":"Slug"},{"t":0.35,"v":1.7,"s":"Slug"},{"t":0.367,"v":4.7,"s":"Slug"},{"t":0.383,"v":2.8,"s":"Slug"},{"t":0.396,"v":0,"s":"Slug"},{"t":0.411,"v":1.9,"s":"Slug"},{"t":0.426,"v":4.5,"s":"Slug"},{"t":0.441,"v":0.2,"s":"Slug"},{"t":0.451,"v":1.4,"s":"Slug"},{"t":0.463,"v":3.8,"s":"Slug"},{"t":0.475,"v":1.9,"s":"Slug"},{"t":0.487,"v":4.7,"s":"Slug"},{"t":0.506,"v":5.7,"s":"Slug"},{"t":0.522,"v":7.6,"s":"Slug"},{"t":0.53,"v":5.2,"s":"Slug"},{"t":0.546,"v":10.9,"s":"Slug"},{"t":0.555,"v":11.6,"s":"Slug"},{"t":0.573,"v":12.8,"s":"Slug"},{"t":0.579,"v":19.5,"s":"Slug"},{"t":0.588,"v":24.4,"s":"Slug"},{"t":0.598,"v":17.1,"s":"Slug"},{"t":0.607,"v":15.7,"s":"Slug"},{"t":0.616,"v":20.9,"s":"Slug"},{"t":0.632,"v":25.1,"s":"Slug"},{"t":0.647,"v":22.8,"s":"Slug"},{"t":0.665,"v":21.6,"s":"Slug"},{"t":0.683,"v":20.9,"s":"Slug"},{"t":0.696,"v":20.2,"s":"Slug"},{"t":0.708,"v":17.1,"s":"Slug"},{"t":0.72,"v":13.8,"s":"Slug"},{"t":0.732,"v":11.9,"s":"Slug"},{"t":0.745,"v":10.9,"s":"Slug"},{"t":0.763,"v":9.5,"s":"Slug"},{"t":0.775,"v":8.8,"s":"Slug"},{"t":0.794,"v":7.4,"s":"Slug"},{"t":0.812,"v":8.1,"s":"Slug"},{"t":0.83,"v":7.8,"s":"Slug"},{"t":0.849,"v":7.1,"s":"Slug"},{"t":0.867,"v":7.4,"s":"Slug"},{"t":0.885,"v":6.9,"s":"Slug"},{"t":0.904,"v":6.9,"s":"Slug"},{"t":0.922,"v":7.8,"s":"Slug"},{"t":0.934,"v":6.6,"s":"Slug"},{"t":0.953,"v":7.6,"s":"Slug"},{"t":0.971,"v":7.4,"s":"Slug"},{"t":0.989,"v":7.6,"s":"Slug"},{"t":1.008,"v":6.9,"s":"Slug"},{"t":1.026,"v":7.1,"s":"Slug"},{"t":1.045,"v":6.6,"s":"Slug"},{"t":1.063,"v":7.1,"s":"Slug"},{"t":1.081,"v":7.4,"s":"Slug"},{"t":1.1,"v":6.6,"s":"Slug"},{"t":1.112,"v":5.2,"s":"Slug"},{"t":1.13,"v":6.2,"s":"Slug"},{"t":1.149,"v":6.9,"s":"Slug"},{"t":1.173,"v":6.9,"s":"Slug"},{"t":1.198,"v":6.4,"s":"Slug"},{"t":1.222,"v":5.9,"s":"Slug"},{"t":1.24,"v":7.4,"s":"Slug"},{"t":1.259,"v":6.2,"s":"Slug"},{"t":1.284,"v":6.6,"s":"Slug"},{"t":1.302,"v":8.1,"s":"Slug"},{"t":1.323,"v":5.9,"s":"Slug"},{"t":1.338,"v":8.8,"s":"Slug"},{"t":1.354,"v":6.6,"s":"Slug"},{"t":1.369,"v":9.5,"s":"Slug"},{"t":1.384,"v":7.1,"s":"Slug"},{"t":1.4,"v":9.7,"s":"Slug"},{"t":1.416,"v":6.6,"s":"Slug"},{"t":1.43,"v":9.0,"s":"Slug"},{"t":1.449,"v":5.5,"s":"Slug"},{"t":1.467,"v":9.5,"s":"Slug"},{"t":1.485,"v":6.6,"s":"Slug"},{"t":1.498,"v":7.6,"s":"Slug"},
      {"t":0,"v":27,"s":"Continuous"},{"t":0.03,"v":26,"s":"Continuous"},{"t":0.06,"v":25.4,"s":"Continuous"},{"t":0.1,"v":25.8,"s":"Continuous"},{"t":0.14,"v":25.5,"s":"Continuous"},{"t":0.18,"v":25.6,"s":"Continuous"},{"t":0.19,"v":24,"s":"Continuous"},{"t":0.196,"v":21.3,"s":"Continuous"},{"t":0.206,"v":19.4,"s":"Continuous"},{"t":0.216,"v":18.0,"s":"Continuous"},{"t":0.233,"v":20.9,"s":"Continuous"},{"t":0.243,"v":17.6,"s":"Continuous"},{"t":0.255,"v":13.8,"s":"Continuous"},{"t":0.265,"v":11.4,"s":"Continuous"},{"t":0.273,"v":10.0,"s":"Continuous"},{"t":0.279,"v":9.3,"s":"Continuous"},{"t":0.291,"v":8.1,"s":"Continuous"},{"t":0.304,"v":7.8,"s":"Continuous"},{"t":0.328,"v":6.9,"s":"Continuous"},{"t":0.365,"v":5.9,"s":"Continuous"},{"t":0.414,"v":5.7,"s":"Continuous"},{"t":0.445,"v":5.9,"s":"Continuous"},{"t":0.487,"v":5.5,"s":"Continuous"},{"t":0.536,"v":4.7,"s":"Continuous"},{"t":0.561,"v":3.8,"s":"Continuous"},{"t":0.591,"v":3.1,"s":"Continuous"},{"t":0.628,"v":2.6,"s":"Continuous"},{"t":0.671,"v":3.1,"s":"Continuous"},{"t":0.696,"v":5.2,"s":"Continuous"},{"t":0.72,"v":6.6,"s":"Continuous"},{"t":0.738,"v":9.0,"s":"Continuous"},{"t":0.757,"v":13,"s":"Continuous"},{"t":0.775,"v":16.1,"s":"Continuous"},{"t":0.787,"v":17.6,"s":"Continuous"},{"t":0.8,"v":18.6,"s":"Continuous"},{"t":0.812,"v":17.6,"s":"Continuous"},{"t":0.824,"v":15.2,"s":"Continuous"},{"t":0.843,"v":12.8,"s":"Continuous"},{"t":0.861,"v":10.9,"s":"Continuous"},{"t":0.879,"v":10.0,"s":"Continuous"},{"t":0.904,"v":9.0,"s":"Continuous"},{"t":0.928,"v":8.8,"s":"Continuous"},{"t":0.953,"v":8.8,"s":"Continuous"},{"t":0.977,"v":8.5,"s":"Continuous"},{"t":1.002,"v":8.8,"s":"Continuous"},{"t":1.026,"v":8.5,"s":"Continuous"},{"t":1.051,"v":8.8,"s":"Continuous"},{"t":1.075,"v":8.3,"s":"Continuous"},{"t":1.1,"v":8.1,"s":"Continuous"},{"t":1.124,"v":7.6,"s":"Continuous"},{"t":1.149,"v":8.1,"s":"Continuous"},{"t":1.173,"v":8.3,"s":"Continuous"},{"t":1.198,"v":8.5,"s":"Continuous"},{"t":1.222,"v":8.3,"s":"Continuous"},{"t":1.247,"v":8.1,"s":"Continuous"},{"t":1.271,"v":8.1,"s":"Continuous"},{"t":1.296,"v":8.8,"s":"Continuous"},{"t":1.32,"v":9.5,"s":"Continuous"},{"t":1.345,"v":10.2,"s":"Continuous"},{"t":1.369,"v":10.4,"s":"Continuous"},{"t":1.394,"v":10.0,"s":"Continuous"},{"t":1.418,"v":10.2,"s":"Continuous"},{"t":1.443,"v":10.9,"s":"Continuous"},{"t":1.467,"v":10.4,"s":"Continuous"},{"t":1.492,"v":10.2,"s":"Continuous"}
    ],
    "barB": [{"start": 0.232, "end": 0.654, "level": 31.6}],
    "barD": [{"start": 0.181, "end": 0.616, "level": 30.9}]
  },
  "concat": [
    {
      "width": 408, "height": 281,
      "title": {"text": "a", "dx": -10, "dy": 46},
      "data": {"name": "a"},
      "encoding": {
        "x": {"field": "t", "type": "quantitative", "scale": {"domain": [0, 7], "nice": false}, "axis": {"values": [0, 2, 4, 6], "title": null, "format": "~g"}},
        "y": {"field": "v", "type": "quantitative", "scale": {"domain": [0, 40], "nice": false}, "axis": {"values": [0, 10, 20, 30, 40], "title": "CH₄-rate [mM/d]", "titleAngle": 0, "titleAlign": "left", "titleBaseline": "middle", "titleX": -42, "titleY": 27}}
      },
      "layer": [
        {"transform": [{"filter": "datum.s === 'Continuous'"}], "mark": {"type": "line", "strokeJoin": "round", "color": "#555555", "strokeWidth": 1, "strokeDash": [1, 2.5]}},
        {"transform": [{"filter": "datum.s === 'Slug'"}], "mark": {"type": "line", "strokeJoin": "round", "color": "black", "strokeWidth": 3},
          "encoding": {
            "strokeDash": {"field": "s", "type": "nominal", "scale": {"domain": ["Slug", "Continuous"], "range": [[1, 0], [6, 4]]},
              "legend": {"title": null, "orient": "none", "legendX": 169, "legendY": 53, "padding": 0, "symbolType": "M-2,0H2", "symbolSize": 576, "labelOffset": 29, "rowPadding": 17, "labelFontSize": 17, "labelFont": "Liberation Serif", "labelFontWeight": "bold", "labelColor": "black", "symbolStrokeWidth": 3, "symbolStrokeColor": "black"}}
          }}
      ]
    },
    {
      "width": 408, "height": 281,
      "title": {"text": "c", "dx": -17, "dy": 48},
      "data": {"name": "c"},
      "encoding": {
        "x": {"field": "t", "type": "quantitative", "scale": {"domain": [0, 8], "nice": false}, "axis": {"values": [0, 2, 4, 6, 8], "title": null, "format": "~g"}},
        "y": {"field": "v", "type": "quantitative", "scale": {"domain": [0, 40], "nice": false}, "axis": {"values": [0, 10, 20, 30, 40], "title": "CH₄-rate [mM/d]", "titleAngle": 0, "titleAlign": "left", "titleBaseline": "middle", "titleX": -41, "titleY": 27}}
      },
      "layer": [
        {"transform": [{"filter": "datum.s === 'Continuous'"}], "mark": {"type": "line", "strokeJoin": "round", "color": "#555555", "strokeWidth": 1, "strokeDash": [1, 2.5]}},
        {"transform": [{"filter": "datum.s === 'Slug'"}], "mark": {"type": "line", "strokeJoin": "round", "color": "black", "strokeWidth": 3},
          "encoding": {
            "strokeDash": {"field": "s", "type": "nominal", "scale": {"domain": ["Slug", "Continuous"], "range": [[1, 0], [5, 3]]},
              "legend": {"title": null, "orient": "none", "legendX": 117, "legendY": 53, "padding": 0, "symbolType": "M-2,0H2", "symbolSize": 576, "labelOffset": 29, "rowPadding": 17, "labelFontSize": 17, "labelFont": "Liberation Serif", "labelFontWeight": "bold", "labelColor": "black", "symbolStrokeWidth": 2, "symbolStrokeColor": "black"}}
          }}
      ]
    },
    {
      "width": 408, "height": 281,
      "title": {"text": "b", "dx": -12, "dy": 37},
      "encoding": {
        "x": {"type": "quantitative", "scale": {"domain": [0, 1.5], "nice": false}, "axis": {"values": [0, 0.5, 1, 1.5], "title": "Time [d]", "format": "~g"}},
        "y": {"type": "quantitative", "scale": {"domain": [0, 40], "nice": false}, "axis": {"values": [0, 10, 20, 30, 40], "title": "CH₄-rate [mM/d]", "titleAngle": 0, "titleAlign": "left", "titleBaseline": "middle", "titleX": -44, "titleY": 33}}
      },
      "layer": [
        {"data": {"name": "b"}, "transform": [{"filter": "datum.s === 'Continuous'"}], "mark": {"type": "line", "strokeJoin": "round", "color": "black", "strokeWidth": 2.5, "strokeDash": [3, 5]},
          "encoding": {"x": {"field": "t", "type": "quantitative"}, "y": {"field": "v", "type": "quantitative"}}},
        {"data": {"name": "b"}, "transform": [{"filter": "datum.s === 'Slug'"}], "mark": {"type": "line", "strokeJoin": "round", "color": "black", "strokeWidth": 2.5},
          "encoding": {"x": {"field": "t", "type": "quantitative"}, "y": {"field": "v", "type": "quantitative"}}},
        {"data": {"name": "barB"}, "mark": {"type": "rule", "strokeWidth": 7, "strokeCap": "round", "color": "black"},
          "encoding": {"x": {"field": "start", "type": "quantitative"}, "x2": {"field": "end"}, "y": {"field": "level", "type": "quantitative"}}}
      ]
    },
    {
      "width": 408, "height": 281,
      "title": {"text": "d", "dx": -22, "dy": 47},
      "encoding": {
        "x": {"type": "quantitative", "scale": {"domain": [0, 1.5], "nice": false}, "axis": {"values": [0, 0.5, 1, 1.5], "title": "Time [d]", "format": "~g"}},
        "y": {"type": "quantitative", "scale": {"domain": [0, 40], "nice": false}, "axis": {"values": [0, 10, 20, 30, 40], "title": "CH₄-rate [mM/d]", "titleAngle": 0, "titleAlign": "left", "titleBaseline": "middle", "titleX": -42, "titleY": 33}}
      },
      "layer": [
        {"data": {"name": "d"}, "transform": [{"filter": "datum.s === 'Continuous'"}], "mark": {"type": "line", "strokeJoin": "round", "color": "black", "strokeWidth": 2.5, "strokeDash": [3, 5]},
          "encoding": {"x": {"field": "t", "type": "quantitative"}, "y": {"field": "v", "type": "quantitative"}}},
        {"data": {"name": "d"}, "transform": [{"filter": "datum.s === 'Slug'"}], "mark": {"type": "line", "strokeJoin": "round", "color": "black", "strokeWidth": 2.5},
          "encoding": {"x": {"field": "t", "type": "quantitative"}, "y": {"field": "v", "type": "quantitative"}}},
        {"data": {"name": "barD"}, "mark": {"type": "rule", "strokeWidth": 7, "strokeCap": "round", "color": "black"},
          "encoding": {"x": {"field": "start", "type": "quantitative"}, "x2": {"field": "end"}, "y": {"field": "level", "type": "quantitative"}}}
      ]
    }
  ],
  "config": {
    "view": {"stroke": "black", "strokeWidth": 2},
    "font": "Liberation Serif",
    "axis": {"grid": false, "domainColor": "black", "domainWidth": 2, "tickColor": "black", "tickWidth": 1.5, "tickSize": 4,
      "labelFont": "Liberation Serif", "labelFontWeight": "bold", "labelFontSize": 18, "labelColor": "black",
      "titleFont": "Liberation Serif", "titleFontWeight": "bold", "titleFontSize": 20, "titleColor": "black"},
    "axisY": {"labelPadding": 11},
    "axisX": {"labelPadding": 9, "titlePadding": 26, "labelFlush": false},
    "title": {"font": "Liberation Serif", "fontSize": 19, "fontWeight": "bold", "fontStyle": "italic", "color": "black", "anchor": "end", "frame": "group", "orient": "top", "offset": 0, "baseline": "middle"}
  }
}
